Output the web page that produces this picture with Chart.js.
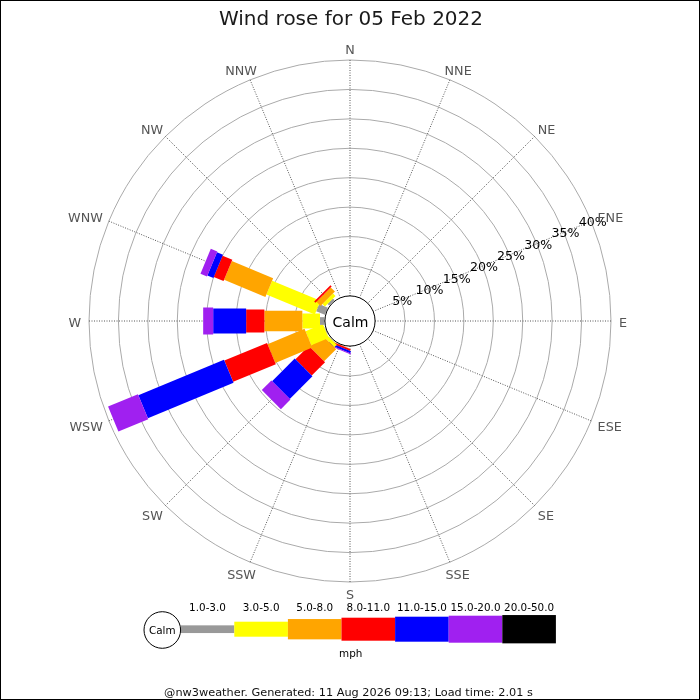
<!DOCTYPE html>
<html>
<head>
<meta charset="utf-8">
<script src="https://cdn.jsdelivr.net/npm/chart.js@4.4.1/dist/chart.umd.min.js"></script>
<style>
  html, body { margin: 0; padding: 0; background: #fff; }
  #wrap { width: 700px; height: 700px; position: relative; }
</style>
</head>
<body>
<div id="wrap"><canvas id="c" width="700" height="700"></canvas></div>
<script>
// ---- Data ----
const directions = ['N','NNE','NE','ENE','E','ESE','SE','SSE','S','SSW','SW','WSW','W','WNW','NW','NNW'];
const speedBins = ['1.0-3.0','3.0-5.0','5.0-8.0','8.0-11.0','11.0-15.0','15.0-20.0','20.0-50.0'];
// percentage of observations per direction, one array per speed bin
const pct_1_3   = [0,0,0,0,0,0,0,0,0,0,    0.1, 0.1,  0.75, 1.6, 0.4, 0];
const pct_3_5   = [0,0,0,0,0,0,0,0,0,0,    0.6, 3.2,  3.0,  8.9, 0.6, 0];
const pct_5_8   = [0,0,0,0,0,0,0,0,0,0.05, 2.9, 6.8,  6.45, 7.6, 1.0, 0];
const pct_8_11  = [0,0,0,0,0,0,0,0,0,0.3,  3.2, 7.85, 3.1,  1.8, 0.3, 0];
const pct_11_15 = [0,0,0,0,0,0,0,0,0,0.35, 5.45,15.75,5.6,  1.1, 0,   0];
const pct_15_20 = [0,0,0,0,0,0,0,0,0,0.15, 2.3, 5.5,  1.7,  1.2, 0,   0];
const pct_20_50 = [0,0,0,0,0,0,0,0,0,0,    0,   0,    0,    0,   0,   0];
const radialTicks = [5,10,15,20,25,30,35,40];
const titleText = 'Wind rose for 05 Feb 2022';
const footerText = '@nw3weather. Generated: 11 Aug 2026 09:13; Load time: 2.01 s';
const unitText = 'mph';

// ---- Styles ----
const binColors = ['#999999','#ffff00','#ffa500','#ff0000','#0000ff','#a020f0','#000000'];
const binWidths = [7.7, 15, 20.3, 23, 25, 27, 28.3];
const FONT = '"DejaVu Sans", "Liberation Sans", sans-serif';
const CAP = 0.729; // cap height of DejaVu Sans in em

const series = [pct_1_3, pct_3_5, pct_5_8, pct_8_11, pct_11_15, pct_15_20, pct_20_50];

function capText(ctx, txt, x, cy, size) {
  ctx.textBaseline = 'alphabetic';
  ctx.fillText(txt, x, cy + CAP * size / 2);
}

const rosePlugin = {
  id: 'rose',
  afterDatasetsDraw(chart) {
    const ctx = chart.ctx;
    const scale = chart.scales.r;
    const cx = scale.xCenter, cy = scale.yCenter;
    ctx.save();
    // bars
    const n = chart.data.labels.length;
    for (let i = 0; i < n; i++) {
      let cum = 0;
      chart.data.datasets.forEach((ds, b) => {
        const v = ds.data[i];
        if (v > 0) {
          const p0 = scale.getPointPositionForValue(i, cum);
          cum += v;
          const p1 = scale.getPointPositionForValue(i, cum);
          ctx.beginPath();
          ctx.moveTo(p0.x, p0.y);
          ctx.lineTo(p1.x, p1.y);
          ctx.lineWidth = binWidths[b];
          ctx.strokeStyle = binColors[b];
          ctx.lineCap = 'butt';
          ctx.stroke();
        }
      });
    }
    // calm circle
    const r0 = scale.getDistanceFromCenterForValue(0);
    ctx.beginPath();
    ctx.arc(cx, cy, r0 - 0.5, 0, Math.PI * 2);
    ctx.fillStyle = '#fff';
    ctx.fill();
    ctx.lineWidth = 1;
    ctx.strokeStyle = '#000';
    ctx.stroke();
    ctx.fillStyle = '#000';
    ctx.font = '14px ' + FONT;
    ctx.textAlign = 'center';
    ctx.textBaseline = 'alphabetic';
    ctx.fillText('Calm', cx + 0.5, cy + 6.3);

    // radial tick labels along ENE
    ctx.font = '12.6px ' + FONT;
    radialTicks.forEach(v => {
      const p = scale.getPointPositionForValue(3, v);
      capText(ctx, v + '%', p.x + 1.5, p.y + 0.5, 12.6);
    });

    // direction labels
    const ls = 12.75;
    ctx.font = ls + 'px ' + FONT;
    ctx.fillStyle = '#555';
    for (let i = 0; i < n; i++) {
      const a = scale.getIndexAngle(i) - Math.PI / 2;
      const ux = Math.cos(a), uy = Math.sin(a);
      const hw = ctx.measureText(chart.data.labels[i]).width / 2;
      const p = scale.getPointPosition(i, scale.drawingArea + 1);
      const lx = p.x + ux * (7 + hw);
      const ly = p.y + uy * 10.6 + 1.1;
      capText(ctx, chart.data.labels[i], lx, ly, ls);
    }

    // title
    ctx.fillStyle = '#1a1a1a';
    ctx.font = '20px ' + FONT;
    ctx.textBaseline = 'alphabetic';
    ctx.fillText(titleText, 351, 25);

    // legend
    const lx0 = 180.7, segW = 53.6, ly = 629.2;
    ctx.font = '10.4px ' + FONT;
    speedBins.forEach((lab, b) => {
      const h = binWidths[b];
      ctx.fillStyle = binColors[b];
      ctx.fillRect(lx0 + b * segW, ly - h / 2, segW, h);
      ctx.fillStyle = '#000';
      ctx.textBaseline = 'alphabetic';
      ctx.fillText(lab, lx0 + b * segW + segW / 2, 610.8);
    });
    ctx.beginPath();
    ctx.arc(162.3, 630, 18.3, 0, Math.PI * 2);
    ctx.fillStyle = '#fff';
    ctx.fill();
    ctx.strokeStyle = '#000';
    ctx.lineWidth = 1;
    ctx.stroke();
    ctx.fillStyle = '#000';
    ctx.fillText('Calm', 162.3, 633.5);
    ctx.fillText(unitText, 350.7, 656.5);

    // footer
    ctx.font = '11.3px ' + FONT;
    ctx.fillStyle = '#111';
    ctx.fillText(footerText, 348.5, 696);

    // frame
    ctx.strokeStyle = '#000';
    ctx.lineWidth = 1;
    ctx.strokeRect(0.5, 0.5, 699, 699);
    ctx.restore();
  }
};

new Chart(document.getElementById('c'), {
  type: 'radar',
  data: {
    labels: directions,
    datasets: series.map((d, b) => ({
      label: speedBins[b],
      data: d,
      showLine: false,
      fill: false,
      borderWidth: 0,
      pointRadius: 0,
      pointHoverRadius: 0,
      backgroundColor: binColors[b],
      borderColor: binColors[b]
    }))
  },
  options: {
    responsive: false,
    animation: false,
    events: [],
    layout: { padding: { left: 89, right: 89, top: 60, bottom: 118 } },
    plugins: {
      legend: { display: false },
      title: { display: false },
      tooltip: { enabled: false }
    },
    scales: {
      r: {
        min: -4.35,
        max: 40,
        afterBuildTicks(scale) { scale.ticks = radialTicks.map(v => ({ value: v })); },
        ticks: { display: false },
        pointLabels: { display: false },
        grid: { circular: true, color: '#aaaaaa', lineWidth: 1 },
        angleLines: { color: '#555555', lineWidth: 1, borderDash: [1, 1.5] }
      }
    }
  },
  plugins: [rosePlugin]
});
</script>
</body>
</html>
